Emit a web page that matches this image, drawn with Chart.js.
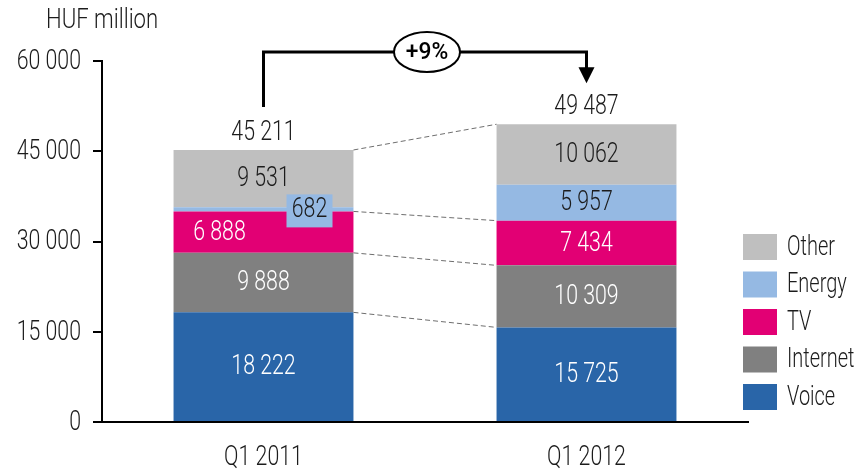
<!DOCTYPE html>
<html>
<head>
<meta charset="utf-8">
<script src="https://cdn.jsdelivr.net/npm/chart.js@4"></script>
<style>
  html, body { margin: 0; padding: 0; background: #fff; }
  #wrap { width: 856px; height: 471px; position: relative; }
</style>
</head>
<body>
<div id="wrap"><canvas id="chart"></canvas></div>
<script>
// chart data
const categories = ['Q1 2011', 'Q1 2012'];
const voice = [18222, 15725];
const internet = [9888, 10309];
const tv = [6888, 7434];
const energy = [682, 5957];
const other = [9531, 10062];
const yTicks = [0, 15000, 30000, 45000, 60000];
const growthLabel = '+9%';
const unitLabel = 'HUF million';

const FONT = 'Roboto, "Liberation Sans", sans-serif';
const TEXT_FONT = '300 27px ' + FONT;
const SQUEEZE = 0.79; // no condensed face installed, so squeeze horizontally
const DARK = '#1c1c1c';

function fmt(v) {
    return String(v).replace(/\B(?=(\d{3})+(?!\d))/g, ' ');
}

function narrowText(ctx, txt, x, y, align, squeeze) {
    ctx.save();
    ctx.translate(x, y);
    ctx.scale(squeeze || SQUEEZE, 1);
    ctx.textAlign = align || 'center';
    ctx.fillText(txt, 0, 0);
    ctx.restore();
}

// label tweaks for the crowded Q1 2011 segments
const labelShift = { 'TV-0': -44, 'Energy-0': 46 };
const labelBox = { 'Energy-0': true };

const overlay = {
    id: 'overlay',
    afterDatasetsDraw(chart) {
        const ctx = chart.ctx;
        const datasets = chart.data.datasets;
        const xs = chart.scales.x, ys = chart.scales.y;
        ctx.save();

        // dashed connectors between the two bars
        const connect = [0, 1, 2, datasets.length - 1];
        ctx.strokeStyle = '#6e6e6e';
        ctx.lineWidth = 1;
        ctx.setLineDash([5, 3]);
        connect.forEach(di => {
            const els = chart.getDatasetMeta(di).data;
            ctx.beginPath();
            ctx.moveTo(els[0].x + els[0].width / 2, els[0].y);
            ctx.lineTo(els[1].x - els[1].width / 2, els[1].y);
            ctx.stroke();
        });
        ctx.setLineDash([]);

        ctx.font = TEXT_FONT;
        ctx.textBaseline = 'middle';

        // axis tick labels
        ctx.fillStyle = DARK;
        ys.ticks.forEach(t => {
            narrowText(ctx, fmt(t.value), xs.left - 21, ys.getPixelForValue(t.value) + 1, 'right');
        });
        categories.forEach((c, i) => {
            narrowText(ctx, c, xs.getPixelForTick(i), xs.top + 36);
        });

        // segment labels
        datasets.forEach((ds, di) => {
            chart.getDatasetMeta(di).data.forEach((el, i) => {
                const key = ds.label + '-' + i;
                const x = el.x + (labelShift[key] || 0);
                const y = (el.y + el.base) / 2 + 1;
                if (labelBox[key]) {
                    ctx.fillStyle = ds.backgroundColor;
                    ctx.fillRect(x - 23, y - 16, 46, 33);
                }
                ctx.fillStyle = ds.labelColor;
                narrowText(ctx, fmt(ds.data[i]), x, y);
            });
        });

        // totals
        const topMeta = chart.getDatasetMeta(datasets.length - 1);
        ctx.fillStyle = DARK;
        ctx.textBaseline = 'alphabetic';
        categories.forEach((c, i) => {
            const total = datasets.reduce((s, ds) => s + ds.data[i], 0);
            const el = topMeta.data[i];
            narrowText(ctx, fmt(total), el.x, el.y - 10);
        });

        // growth bracket
        const x0 = topMeta.data[0].x, x1 = topMeta.data[1].x;
        const yTop = 52;
        ctx.strokeStyle = '#000';
        ctx.lineWidth = 3;
        ctx.beginPath();
        ctx.moveTo(x0, topMeta.data[0].y - 43);
        ctx.lineTo(x0, yTop);
        ctx.lineTo(x1, yTop);
        ctx.lineTo(x1, topMeta.data[1].y - 56);
        ctx.stroke();
        ctx.fillStyle = '#000';
        ctx.beginPath();
        ctx.moveTo(x1 - 8, topMeta.data[1].y - 57);
        ctx.lineTo(x1 + 8, topMeta.data[1].y - 57);
        ctx.lineTo(x1, topMeta.data[1].y - 41);
        ctx.closePath();
        ctx.fill();

        const ex = (x0 + x1) / 2 + 2;
        ctx.lineWidth = 2;
        ctx.beginPath();
        ctx.ellipse(ex, yTop, 33, 20, 0, 0, Math.PI * 2);
        ctx.fillStyle = '#fff';
        ctx.fill();
        ctx.stroke();
        ctx.fillStyle = '#000';
        ctx.font = '500 24px ' + FONT;
        ctx.textBaseline = 'middle';
        narrowText(ctx, growthLabel, ex, yTop + 1, 'center', 0.95);

        // unit label
        ctx.font = TEXT_FONT;
        ctx.textBaseline = 'alphabetic';
        ctx.fillStyle = DARK;
        narrowText(ctx, unitLabel, 46, 28, 'left', 0.82);

        // legend, top item = last dataset
        ctx.textBaseline = 'middle';
        datasets.slice().reverse().forEach((ds, k) => {
            const y = 234 + k * 37.5;
            ctx.fillStyle = ds.backgroundColor;
            ctx.fillRect(743, y, 34, 26);
            ctx.fillStyle = DARK;
            narrowText(ctx, ds.label, 787, y + 14, 'left', 0.74);
        });

        ctx.restore();
    }
};

new Chart(document.getElementById('chart'), {
    type: 'bar',
    data: {
        labels: categories,
        datasets: [
            { label: 'Voice', data: voice, backgroundColor: '#2965a8', labelColor: '#fff' },
            { label: 'Internet', data: internet, backgroundColor: '#808080', labelColor: '#fff' },
            { label: 'TV', data: tv, backgroundColor: '#e20074', labelColor: '#fff' },
            { label: 'Energy', data: energy, backgroundColor: '#95b9e3', labelColor: DARK },
            { label: 'Other', data: other, backgroundColor: '#bfbfbf', labelColor: DARK }
        ]
    },
    options: {
        responsive: true,
        maintainAspectRatio: false,
        animation: false,
        barPercentage: 0.557,
        categoryPercentage: 1,
        layout: { padding: { top: 61, right: 108, left: 0, bottom: 0 } },
        plugins: { legend: { display: false }, tooltip: { enabled: false } },
        scales: {
            x: {
                stacked: true,
                grid: { display: false },
                border: { display: true, color: '#000', width: 2 },
                ticks: { display: false },
                afterFit(scale) { scale.height = 49; }
            },
            y: {
                stacked: true,
                min: 0,
                max: 60000,
                afterBuildTicks(scale) { scale.ticks = yTicks.map(v => ({ value: v })); },
                grid: { drawOnChartArea: false, drawTicks: true, tickLength: 9, color: '#000', lineWidth: 2 },
                border: { display: true, color: '#000', width: 2 },
                ticks: { display: false },
                afterFit(scale) { scale.width = 102; }
            }
        }
    },
    plugins: [overlay]
});
</script>
</body>
</html>
